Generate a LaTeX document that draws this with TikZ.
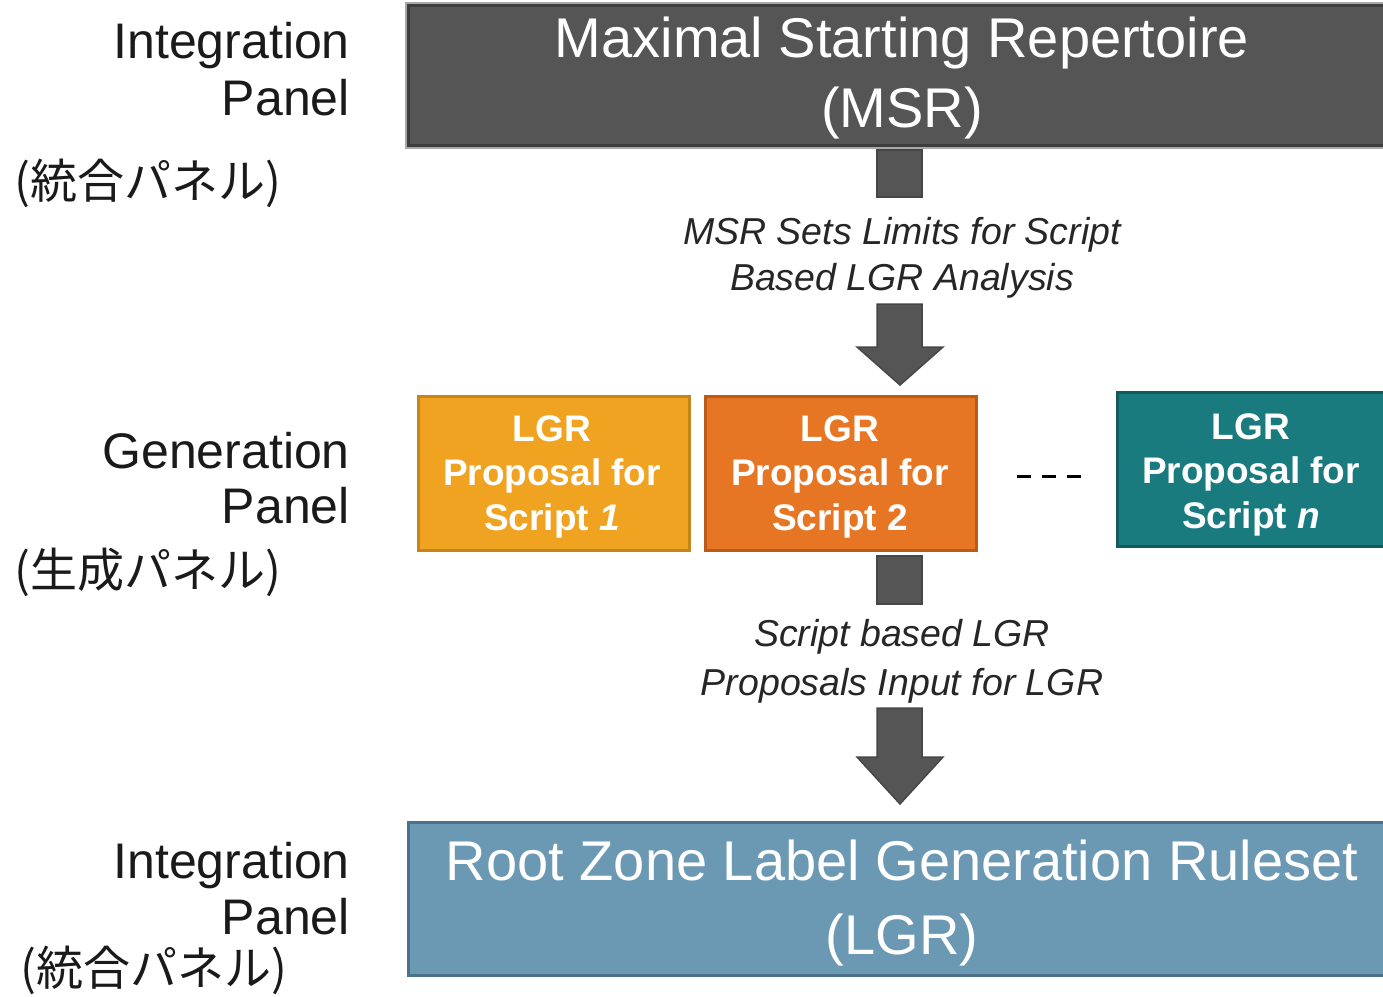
\documentclass[tikz,border=0pt]{standalone}
\usepackage{fontspec}
\setmainfont{Liberation Sans}
\newfontfamily\jpfont{Noto Sans CJK JP}
\definecolor{msrfill}{HTML}{555555}
\definecolor{msrline}{HTML}{3E3E3E}
\definecolor{shadowgray}{HTML}{A8A8A8}
\definecolor{yfill}{HTML}{F0A321}
\definecolor{yline}{HTML}{C4861C}
\definecolor{ofill}{HTML}{E67624}
\definecolor{oline}{HTML}{B95C1B}
\definecolor{tfill}{HTML}{1A7B7F}
\definecolor{tline}{HTML}{125A5D}
\definecolor{rfill}{HTML}{6B98B3}
\definecolor{rline}{HTML}{4C7289}
\definecolor{arrowfill}{HTML}{555555}
\definecolor{arrowline}{HTML}{464646}
\definecolor{captext}{HTML}{262626}
\definecolor{labtext}{HTML}{1A1A1A}
\tikzset{
  panelbox/.style={draw, line width=3pt, inner sep=0pt, minimum width=982pt, minimum height=#1},
  propbox/.style={draw, line width=3pt, inner sep=0pt, minimum width=271pt, minimum height=154pt},
  bigtxt/.style={anchor=base, inner sep=0pt, text=white, font=\fontsize{56}{67}\selectfont},
  proptxt/.style={anchor=base, inner sep=0pt, text=white, font=\fontsize{37}{44}\selectfont\bfseries},
  captxt/.style={anchor=base, inner sep=0pt, text=captext, font=\fontsize{37.5}{46}\selectfont\itshape},
  labtxt/.style={anchor=base east, inner sep=0pt, text=labtext, font=\fontsize{50}{58}\selectfont},
  jptxt/.style={anchor=west, inner sep=0pt, text=labtext, font=\fontsize{47}{50}\selectfont\jpfont},
  blockarrow/.style={fill=arrowfill, draw=arrowline, line width=1.5pt}
}
\begin{document}
\begin{tikzpicture}[x=1pt,y=-1pt]
\useasboundingbox (0,0) rectangle (1383,996);
\clip (0,0) rectangle (1383,996);

% ---- left labels
\node[labtxt] (int1a) at (350,58) {Integration};
\node[labtxt] (int1b) at (350,115) {Panel};
\node[jptxt] (int1j) at (14,183) {(統合パネル)};
\node[labtxt] (gen1a) at (350,468) {Generation};
\node[labtxt] (gen1b) at (350,523) {Panel};
\node[jptxt] (gen1j) at (14,572) {(生成パネル)};
\node[labtxt] (int2a) at (350,878) {Integration};
\node[labtxt] (int2b) at (350,934) {Panel};
\node[jptxt] (int2j) at (20,970) {(統合パネル)};

% ---- MSR box
\draw[shadowgray, line width=2pt] (406,3) rectangle (1395,148);
\node[panelbox=140pt, fill=msrfill, draw=msrline] (msr) at (899,75) {};
\node[bigtxt] (msrt1) at (902,57) {Maximal Starting Repertoire};
\node[bigtxt] (msrt2) at (902,127) {(MSR)};

% ---- arrow 1
\draw[blockarrow] (877,150) rectangle (922,197);
\node[captxt] (cap1a) at (902,244) {MSR Sets Limits for Script};
\node[captxt] (cap1b) at (902,290) {Based LGR Analysis};
\draw[blockarrow] (877,304) -- (922,304) -- (922,347) -- (943,347) -- (900,385)
  -- (857,347) -- (877,347) -- cycle;

% ---- proposal boxes
\node[propbox, fill=yfill, draw=yline] (p1) at (553.5,473) {};
\node[proptxt] (p1a) at (552,441) {LGR};
\node[proptxt] (p1b) at (552,485) {Proposal for};
\node[proptxt] (p1c) at (552,530) {Script \textit{1}};

\node[propbox, fill=ofill, draw=oline] (p2) at (840.5,473) {};
\node[proptxt] (p2a) at (840,441) {LGR};
\node[proptxt] (p2b) at (840,485) {Proposal for};
\node[proptxt] (p2c) at (840,530) {Script 2};

\node[propbox, fill=tfill, draw=tline, minimum width=280pt] (p3) at (1257.5,469.5) {};
\node[proptxt] (p3a) at (1251,439) {LGR};
\node[proptxt] (p3b) at (1251,483) {Proposal for};
\node[proptxt] (p3c) at (1251,528) {Script \textit{n}};

\coordinate (dotsL) at (1017,476);
\coordinate (dotsR) at (1081,476);
\draw[black, line width=3pt, dash pattern=on 14pt off 11pt] (dotsL) -- (dotsR);

% ---- arrow 2
\draw[blockarrow] (877,556) rectangle (922,604);
\node[captxt] (cap2a) at (902,646) {Script based LGR};
\node[captxt] (cap2b) at (902,695) {Proposals Input for LGR};
\draw[blockarrow] (877,708) -- (922,708) -- (922,757) -- (943,757) -- (900,804)
  -- (857,757) -- (877,757) -- cycle;

% ---- Root zone LGR box
\node[panelbox=153pt, fill=rfill, draw=rline] (rz) at (899,898.5) {};
\node[bigtxt] (rzt1) at (902,880) {Root Zone Label Generation Ruleset};
\node[bigtxt] (rzt2) at (902,954) {(LGR)};
\end{tikzpicture}
\end{document}
